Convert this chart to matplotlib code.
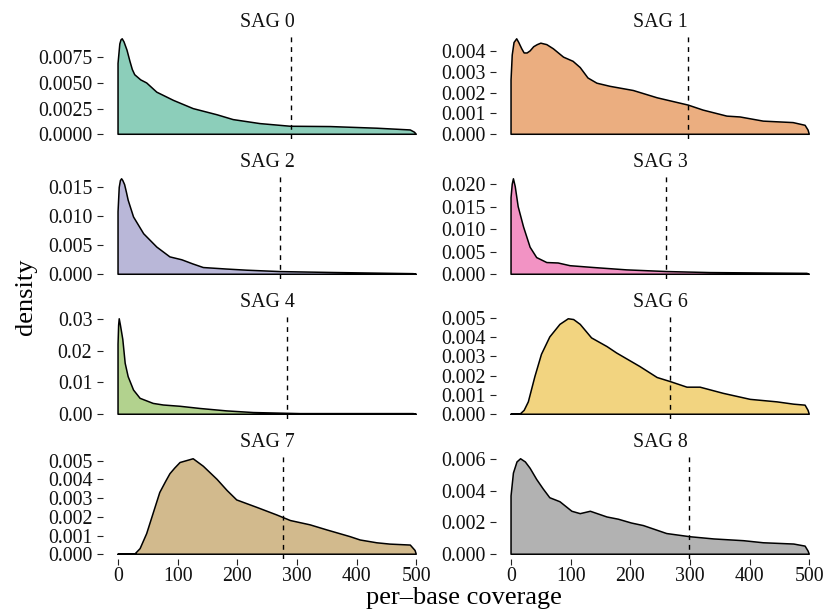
import numpy as np
import matplotlib.pyplot as plt
from matplotlib.colors import to_rgba

plt.rcParams['font.family'] = ['Liberation Serif', 'DejaVu Serif']

# facet names, fill colours (Dark2) and the dashed cut-off per SAG
sag_names = ['SAG 0', 'SAG 1', 'SAG 2', 'SAG 3', 'SAG 4', 'SAG 6', 'SAG 7', 'SAG 8']
sag_colors = ['#1B9E77', '#D95F02', '#7570B3', '#E7298A',
              '#66A61E', '#E6AB02', '#A6761D', '#666666']
sag_cutoffs = [290, 297, 272, 260, 283, 266, 277, 299]

# density curves
sag0_x = [0, 3, 5, 7, 10, 15, 20, 24, 28, 38, 48, 65, 93, 126, 166, 193, 238, 289, 356,
          434, 490, 497, 500]
sag0_y = [0.0069, 0.0088, 0.0092, 0.0093, 0.0090, 0.0082, 0.0071, 0.0063, 0.0058, 0.0053,
          0.0050, 0.0041, 0.0033, 0.0025, 0.0019, 0.00143, 0.00104, 0.00078, 0.00075,
          0.00059, 0.00042, 0.0002, 0.0]

sag1_x = [0, 2, 5, 9.5, 13, 18, 22, 27, 32, 38, 44, 50, 60, 71, 88, 104, 116, 129, 144,
          166, 205, 245, 297, 322, 362, 384, 423, 473, 493, 498, 500]
sag1_y = [0.0026, 0.0038, 0.0044, 0.00458, 0.0044, 0.0041, 0.0039, 0.0039, 0.0040, 0.0042,
          0.0043, 0.00437, 0.0043, 0.0041, 0.0037, 0.0035, 0.0032, 0.0027, 0.00245, 0.0023,
          0.0021, 0.00175, 0.0014, 0.00116, 0.00087, 0.00083, 0.00063, 0.00056, 0.00043,
          0.0002, 0.0]

sag2_x = [0, 2, 4, 6, 8, 11, 14, 17, 26, 43, 65, 87, 107, 125, 143, 182, 216, 272, 361,
          495, 500]
sag2_y = [0.0108, 0.0150, 0.0162, 0.0165, 0.0162, 0.0155, 0.0142, 0.0128, 0.0099, 0.0070,
          0.0047, 0.0030, 0.0025, 0.0018, 0.00116, 0.0009, 0.0007, 0.00046, 0.0003, 0.0001,
          0.0]

sag3_x = [0, 2, 4, 7, 12, 21, 32, 43, 60, 79, 99, 138, 194, 261, 334, 496, 500]
sag3_y = [0.017, 0.020, 0.0212, 0.0195, 0.015, 0.0105, 0.006, 0.0037, 0.0026, 0.0025,
          0.0019, 0.0015, 0.00097, 0.0006, 0.00037, 0.0002, 0.0]

sag4_x = [0, 1, 2, 4, 8, 12, 17, 26, 37, 59, 76, 104, 138, 182, 227, 305, 495, 500]
sag4_y = [0.022, 0.028, 0.030, 0.028, 0.0235, 0.016, 0.0118, 0.0076, 0.005, 0.0034,
          0.0029, 0.0025, 0.0018, 0.00105, 0.00053, 0.0002, 0.0002, 0.0]

sag6_x = [0, 15, 22, 29, 40, 51, 65, 82, 96, 105, 116, 135, 161, 177, 216, 245, 267, 295,
          317, 356, 401, 446, 474, 493, 498, 500]
sag6_y = [0.0, 0.0, 0.0002, 0.00064, 0.00195, 0.0031, 0.0040, 0.00465, 0.00494, 0.0049,
          0.00465, 0.00395, 0.0035, 0.00317, 0.00247, 0.0019, 0.00169, 0.0014, 0.0014,
          0.00108, 0.00077, 0.00064, 0.00052, 0.00047, 0.0002, 0.0]

sag7_x = [0, 28, 37, 48, 59, 70, 80, 87, 95, 104, 115, 126, 143, 166, 183, 199, 233, 266,
          289, 322, 350, 389, 406, 434, 456, 490, 498, 500]
sag7_y = [0.0, 0.0, 0.0003, 0.0011, 0.0022, 0.0033, 0.0039, 0.0043, 0.0046, 0.0049,
          0.0050, 0.0051, 0.0047, 0.0040, 0.0034, 0.0029, 0.0025, 0.0021, 0.0018, 0.00157,
          0.0013, 0.00094, 0.00076, 0.00061, 0.00054, 0.00049, 0.0002, 0.0]

sag8_x = [0, 4, 10, 16, 24, 32, 43, 54, 65, 82, 102, 116, 133, 161, 180, 202, 222, 261,
          300, 340, 390, 423, 474, 493, 498, 500]
sag8_y = [0.00366, 0.0051, 0.0058, 0.0060, 0.0058, 0.0054, 0.0047, 0.0041, 0.00355,
          0.0033, 0.0027, 0.00255, 0.0027, 0.00234, 0.0022, 0.00196, 0.0018, 0.0013, 0.0011,
          0.00096, 0.00085, 0.00072, 0.00064, 0.00051, 0.0002, 0.0]

curves_x = [sag0_x, sag1_x, sag2_x, sag3_x, sag4_x, sag6_x, sag7_x, sag8_x]
curves_y = [sag0_y, sag1_y, sag2_y, sag3_y, sag4_y, sag6_y, sag7_y, sag8_y]

# y ticks per facet (free scales)
y_ticks = [[0, 0.0025, 0.005, 0.0075], [0, 0.001, 0.002, 0.003, 0.004],
           [0, 0.005, 0.010, 0.015], [0, 0.005, 0.010, 0.015, 0.020],
           [0, 0.01, 0.02, 0.03], [0, 0.001, 0.002, 0.003, 0.004, 0.005],
           [0, 0.001, 0.002, 0.003, 0.004, 0.005], [0, 0.002, 0.004, 0.006]]
y_decimals = [4, 3, 3, 3, 2, 3, 3, 3]
x_ticks = [0, 100, 200, 300, 400, 500]

fig, axes = plt.subplots(4, 2, figsize=(8.25, 6.13), dpi=100)
fig.subplots_adjust(left=0.125, right=0.999, top=0.9445, bottom=0.0881,
                    hspace=0.333, wspace=0.198)

for i, ax in enumerate(axes.flat):
    x = np.array(curves_x[i], dtype=float)
    y = np.array(curves_y[i], dtype=float)
    px = np.concatenate([[x[0]], x, [x[-1]]])
    py = np.concatenate([[0.0], y, [0.0]])
    ax.fill(px, py, facecolor=to_rgba(sag_colors[i], 0.5), edgecolor='black', lw=1.1,
            joinstyle='round')
    ax.axvline(sag_cutoffs[i], color='black', lw=1.0, ls=(0, (3.5, 3.5)))

    ymax = y.max()
    ax.set_xlim(-25, 525)
    ax.set_ylim(-0.05 * ymax, 1.05 * ymax)
    ax.set_yticks(y_ticks[i])
    ax.set_yticklabels([f'{t:.{y_decimals[i]}f}' for t in y_ticks[i]])
    ax.set_xticks(x_ticks)

    for s in ax.spines.values():
        s.set_visible(False)
    ax.tick_params(axis='both', labelsize=14.3, length=4.3, width=0.8,
                   color='#222222', labelcolor='#111111')
    ax.tick_params(axis='y', pad=3.5)
    ax.tick_params(axis='x', pad=1.5)
    if i < 6:
        ax.tick_params(axis='x', bottom=False, labelbottom=False)

    ax.set_title(sag_names[i], fontsize=14.3, pad=5, color='#111111')

fig.text(0.5619, 0.014, 'per\u2013base coverage', fontsize=19, ha='center', va='baseline')
fig.text(0.032, 0.516, 'density', fontsize=19, rotation=90, ha='center', va='center')

fig.savefig('out.png', dpi=100)
